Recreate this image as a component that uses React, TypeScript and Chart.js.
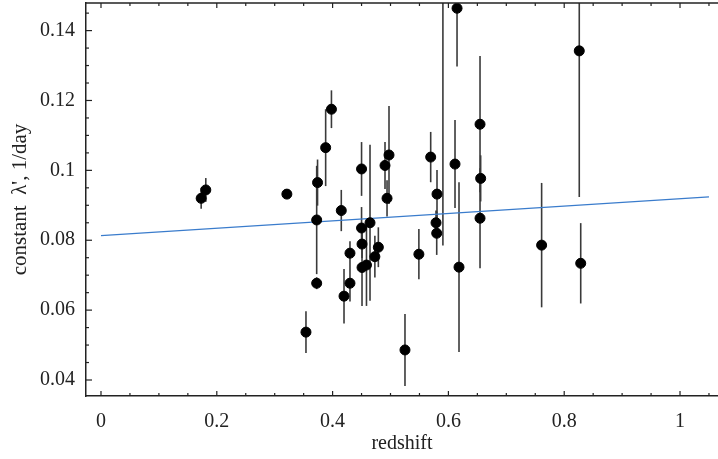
import React, { useEffect, useRef } from "react";
import { Chart, registerables } from "chart.js";

Chart.register(...registerables);

const redshift = [0.173, 0.181, 0.321, 0.354, 0.374, 0.3725, 0.3725, 0.388, 0.398, 0.415, 0.4197, 0.43, 0.43, 0.45, 0.45, 0.4508, 0.4508, 0.4585, 0.4646, 0.473, 0.479, 0.4974, 0.4905, 0.494, 0.5694, 0.5803, 0.5786, 0.5798, 0.5905, 0.6114, 0.6149, 0.6183, 0.6546, 0.6557, 0.6546, 0.525, 0.549, 0.826, 0.761, 0.8285];
const lambda = [0.092, 0.0944, 0.0932, 0.0537, 0.0965, 0.0858, 0.0677, 0.1065, 0.1175, 0.0885, 0.064, 0.0763, 0.0677, 0.1004, 0.0835, 0.0789, 0.0722, 0.0729, 0.085, 0.0753, 0.078, 0.1044, 0.1014, 0.092, 0.1038, 0.0932, 0.085, 0.082, 0.155, 0.1018, 0.1464, 0.0723, 0.1132, 0.0977, 0.0863, 0.0486, 0.076, 0.1342, 0.0786, 0.0734];
const lambdaErr = [0.003, 0.0034, 0.0012, 0.006, 0.0066, 0.0155, 0.0017, 0.011, 0.0054, 0.0059, 0.0078, 0.0034, 0.0052, 0.0077, 0.006, 0.004, 0.011, 0.0117, 0.0223, 0.006, 0.0057, 0.014, 0.0067, 0.0052, 0.0072, 0.0069, 0.0035, 0.0062, 0.0765, 0.0126, 0.0167, 0.0243, 0.0195, 0.0066, 0.0143, 0.0103, 0.0072, 0.0418, 0.0178, 0.0115];

const fitX = [0, 1.05];
const fitY = [0.0813, 0.0924];

const xTickValues = Array.from({ length: 22 }, (_, k) => k * 0.05);
const yTickValues = Array.from({ length: 22 }, (_, k) => (k + 8) * 0.005);

const xTitle = "redshift";
const yTitle = "constant  λ', 1/day";

const isMajorX = (v: number) => Math.round(v * 100) % 20 === 0;
const isMajorY = (v: number) => Math.round(v * 1000) % 20 === 0;

const errorBars = {
  id: "errorBars",
  beforeDatasetsDraw(chart: any) {
    const { ctx, chartArea, scales } = chart;
    const xs = scales.x;
    const ys = scales.y;
    ctx.save();
    ctx.beginPath();
    ctx.rect(chartArea.left, chartArea.top, chartArea.right - chartArea.left, chartArea.bottom - chartArea.top);
    ctx.clip();
    ctx.strokeStyle = "#3a3a3a";
    ctx.lineWidth = 1.6;
    for (let i = 0; i < redshift.length; i++) {
      const px = xs.getPixelForValue(redshift[i]);
      const y1 = ys.getPixelForValue(lambda[i] - lambdaErr[i]);
      const y2 = ys.getPixelForValue(lambda[i] + lambdaErr[i]);
      ctx.beginPath();
      ctx.moveTo(px, y1);
      ctx.lineTo(px, y2);
      ctx.stroke();
    }
    ctx.restore();
  },
};

const frameTicks = {
  id: "frameTicks",
  afterDraw(chart: any) {
    const { ctx, chartArea, scales } = chart;
    const { left, right, top, bottom } = chartArea;
    ctx.save();
    ctx.strokeStyle = "#222";
    ctx.lineWidth = 1.5;
    ctx.beginPath();
    ctx.moveTo(left, top);
    ctx.lineTo(right, top);
    ctx.stroke();
    ctx.lineWidth = 1.2;
    for (const t of scales.y.ticks) {
      const py = scales.y.getPixelForValue(t.value);
      const len = isMajorY(t.value) ? 6 : 3;
      ctx.beginPath();
      ctx.moveTo(left, py);
      ctx.lineTo(left + len, py);
      ctx.stroke();
    }
    for (const t of scales.x.ticks) {
      const px = scales.x.getPixelForValue(t.value);
      const len = isMajorX(t.value) ? 5 : 3;
      ctx.beginPath();
      ctx.moveTo(px, bottom);
      ctx.lineTo(px, bottom - len);
      ctx.moveTo(px, top);
      ctx.lineTo(px, top + len);
      ctx.stroke();
    }
    ctx.restore();
  },
};

export default function App() {
  const ref = useRef<HTMLCanvasElement | null>(null);
  useEffect(() => {
    if (!ref.current) return;
    Chart.defaults.font.family = "'Liberation Serif', 'Times New Roman', serif";
    const chart = new Chart(ref.current, {
      type: "scatter",
      data: {
        datasets: [
          {
            type: "line",
            data: fitX.map((x, i) => ({ x, y: fitY[i] })),
            borderColor: "#3a7ccc",
            borderWidth: 1.3,
            pointRadius: 0,
            fill: false,
            order: 2,
          } as any,
          {
            type: "scatter",
            data: redshift.map((x, i) => ({ x, y: lambda[i] })),
            backgroundColor: "#000",
            borderColor: "#000",
            pointRadius: 5,
            pointHoverRadius: 5,
            order: 1,
          },
        ],
      },
      options: {
        animation: false,
        responsive: false,
        maintainAspectRatio: false,
        layout: { autoPadding: false, padding: { top: 3, left: 0, right: 0, bottom: 0 } },
        plugins: { legend: { display: false }, tooltip: { enabled: false } },
        scales: {
          x: {
            type: "linear",
            min: -0.0259,
            max: 1.0656,
            afterBuildTicks: (s: any) => {
              s.ticks = xTickValues.map((v) => ({ value: v }));
            },
            afterFit: (s: any) => {
              s.height = 63;
              s.paddingLeft = 0;
              s.paddingRight = 0;
            },
            grid: { display: false, drawTicks: false },
            border: { display: true, color: "#222", width: 1.5 },
            ticks: {
              autoSkip: false,
              maxRotation: 0,
              padding: 14,
              color: "#222",
              font: { size: 20 },
              callback: (v: any) => (isMajorX(Number(v)) ? String(parseFloat(Number(v).toFixed(1))) : ""),
            },
            title: { display: true, text: xTitle, color: "#222", font: { size: 20 }, padding: { top: 0, bottom: 3 } },
          },
          y: {
            type: "linear",
            min: 0.03542,
            max: 0.1479,
            afterBuildTicks: (s: any) => {
              s.ticks = yTickValues.map((v) => ({ value: v }));
            },
            afterFit: (s: any) => {
              s.width = 86;
              s.paddingTop = 0;
              s.paddingBottom = 0;
            },
            grid: { display: false, drawTicks: false },
            border: { display: true, color: "#222", width: 1.5 },
            ticks: {
              autoSkip: false,
              padding: 11,
              color: "#222",
              font: { size: 20 },
              callback: (v: any) => (isMajorY(Number(v)) ? String(parseFloat(Number(v).toFixed(2))) : ""),
            },
            title: { display: true, text: yTitle, color: "#222", font: { size: 21 }, padding: { top: 8, bottom: 0 } },
          },
        },
      },
      plugins: [errorBars, frameTicks],
    });
    return () => chart.destroy();
  }, []);
  return (
    <div style={{ position: "absolute", left: 0, top: 0, width: 718, height: 459, background: "#fff" }}>
      <canvas ref={ref} width={718} height={459} style={{ display: "block" }} />
    </div>
  );
}
